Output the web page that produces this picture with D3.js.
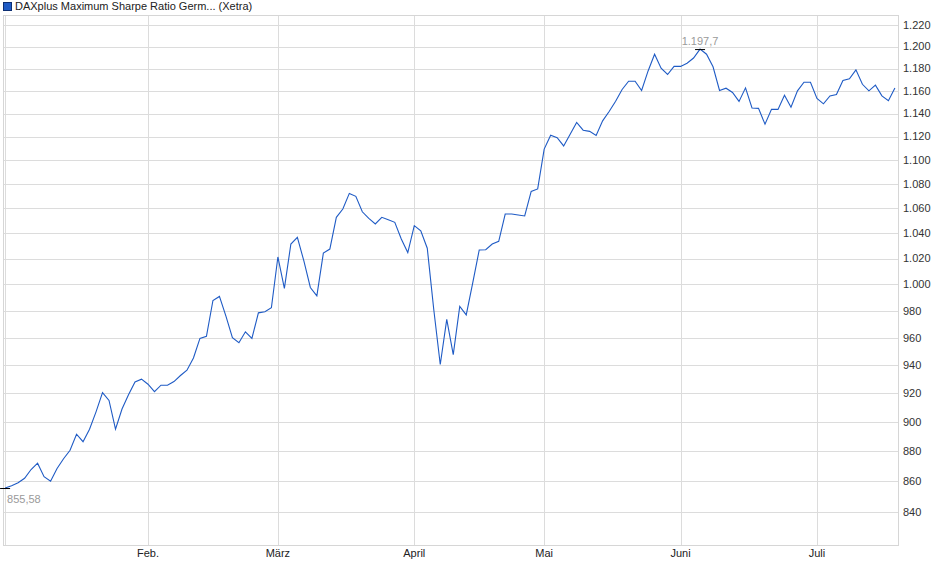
<!DOCTYPE html>
<html>
<head>
<meta charset="utf-8">
<script src="https://cdn.jsdelivr.net/npm/d3@7"></script>
<style>
  body { margin: 0; background: #fff; }
  svg text { font-family: "Liberation Sans", Arial, sans-serif; }
</style>
</head>
<body>
<div id="chart"></div>
<script>
// Schlusskurse je Handelstag (Index 0 = erster Handelstag im Januar)
const values = [
  855.58, 857, 859, 862, 867.8, 872, 863, 860, 868.5, 875,
  880.7, 891.6, 886.5, 895, 907, 920.5, 915, 895, 909, 919,
  928, 930, 926.4, 921.2, 925.7, 925.7, 928.3, 932.6, 936.4, 945.2,
  959.5, 961, 987.8, 990.9, 976, 960, 956.3, 964.4, 959.5, 978.5,
  979.3, 982.3, 1021.3, 997, 1031.5, 1036.8, 1018.2, 997.7, 991.3, 1024.3,
  1027.5, 1052.8, 1059.5, 1072.3, 1069.9, 1057.3, 1052, 1047.5, 1052.8, 1050.9,
  1048.8, 1035.5, 1024.8, 1046.1, 1042, 1028.2, 981, 940.5, 973.6, 947.7,
  983.3, 977, 1001.3, 1026.8, 1027, 1031.5, 1033.6, 1055.5, 1055.5, 1054.7,
  1053.9, 1073.9, 1076, 1109.3, 1121.1, 1119, 1112, 1122, 1132.2, 1125.5,
  1124.5, 1121, 1133.6, 1141.8, 1150.7, 1161.2, 1168.5, 1168.5, 1160.3, 1177.8,
  1193, 1180.3, 1174.6, 1181.9, 1181.9, 1184.8, 1189.5, 1197.7, 1193, 1181.6,
  1160.3, 1162.3, 1158.5, 1150.6, 1162.6, 1144.8, 1144.5, 1130.7, 1143.6, 1143.6,
  1156, 1145.5, 1160, 1167.6, 1167.6, 1153.3, 1148.5, 1155.5, 1156.7, 1169.2,
  1170.8, 1178.8, 1165.8, 1160, 1165, 1155.5, 1151.2, 1162.6
];

// Monatsanfang als Handelstag-Index
const monthIndex = [0, 22, 42, 63, 83, 104, 125];
const monthLabels = ["", "Feb.", "März", "April", "Mai", "Juni", "Juli"];

const yTicks = d3.range(840, 1221, 20);
const title = "DAXplus Maximum Sharpe Ratio Germ... (Xetra)";

const W = 940, H = 579;
const frame = { left: 3, right: 898, top: 15, bottom: 545 };

const de = d3.formatLocale({ decimal: ",", thousands: ".", grouping: [3], currency: ["", "€"] });
const fmtTick = de.format(",d");
const fmtMax = de.format(",.1f");
const fmtMin = de.format(",.2f");

const svg = d3.select("#chart").append("svg")
  .attr("width", W)
  .attr("height", H);

const x = d3.scaleLinear()
  .domain([0, values.length - 1])
  .range([5.1, 894.9]);

const y = d3.scaleLog()
  .domain([840, 1220])
  .range([512, 25]);

// horizontale Gitterlinien
svg.append("g")
  .selectAll("line")
  .data(yTicks)
  .join("line")
  .attr("x1", frame.left)
  .attr("x2", frame.right)
  .attr("y1", d => Math.round(y(d)) + 0.5)
  .attr("y2", d => Math.round(y(d)) + 0.5)
  .style("stroke", "#dcdcdc");

// vertikale Gitterlinien
svg.append("g")
  .selectAll("line")
  .data(monthIndex)
  .join("line")
  .attr("x1", d => Math.round(x(d)) + 0.5)
  .attr("x2", d => Math.round(x(d)) + 0.5)
  .attr("y1", frame.top)
  .attr("y2", frame.bottom)
  .style("stroke", "#dcdcdc");

// Rahmen
svg.append("rect")
  .attr("x", frame.left + 0.5)
  .attr("y", frame.top + 0.5)
  .attr("width", frame.right - frame.left)
  .attr("height", frame.bottom - frame.top)
  .style("fill", "none")
  .style("stroke", "#d6d6d6");

// Y-Achse rechts
svg.append("g")
  .selectAll("text")
  .data(yTicks)
  .join("text")
  .attr("x", 903)
  .attr("y", d => y(d))
  .attr("dy", "0.35em")
  .style("font-size", "11px")
  .style("fill", "#333")
  .text(d => fmtTick(d));

// X-Achse
svg.append("g")
  .selectAll("text")
  .data(monthIndex.filter((d, i) => monthLabels[i] !== ""))
  .join("text")
  .attr("x", d => x(d))
  .attr("y", 557)
  .style("text-anchor", "middle")
  .style("font-size", "11px")
  .style("fill", "#222")
  .text(d => monthLabels[monthIndex.indexOf(d)]);

// Kurslinie
const line = d3.line()
  .x((d, i) => x(i))
  .y(d => y(d));

svg.append("path")
  .datum(values)
  .attr("d", line)
  .style("fill", "none")
  .style("stroke", "#1f5bc5")
  .style("stroke-width", 1.1);

// Minimum und Maximum markieren
const iMin = d3.minIndex(values);
const iMax = d3.maxIndex(values);

svg.append("line")
  .attr("x1", x(iMin) - 5).attr("x2", x(iMin) + 5)
  .attr("y1", y(values[iMin]) + 0.5).attr("y2", y(values[iMin]) + 0.5)
  .style("stroke", "#000");

svg.append("text")
  .attr("x", x(iMin) + 2)
  .attr("y", y(values[iMin]) + 15)
  .style("font-size", "11px")
  .style("fill", "#9a9a9a")
  .text(fmtMin(values[iMin]));

svg.append("line")
  .attr("x1", x(iMax) - 5).attr("x2", x(iMax) + 5)
  .attr("y1", y(values[iMax]) + 0.5).attr("y2", y(values[iMax]) + 0.5)
  .style("stroke", "#000");

svg.append("text")
  .attr("x", x(iMax))
  .attr("y", y(values[iMax]) - 4)
  .style("text-anchor", "middle")
  .style("font-size", "11px")
  .style("fill", "#9a9a9a")
  .text(fmtMax(values[iMax]));

// Legende
svg.append("rect")
  .attr("x", 3.5).attr("y", 2.5)
  .attr("width", 8).attr("height", 8)
  .style("fill", "#1f5bc5")
  .style("stroke", "#0d2f73");

svg.append("text")
  .attr("x", 15)
  .attr("y", 10)
  .style("font-size", "11px")
  .style("fill", "#222")
  .text(title);
</script>
</body>
</html>
